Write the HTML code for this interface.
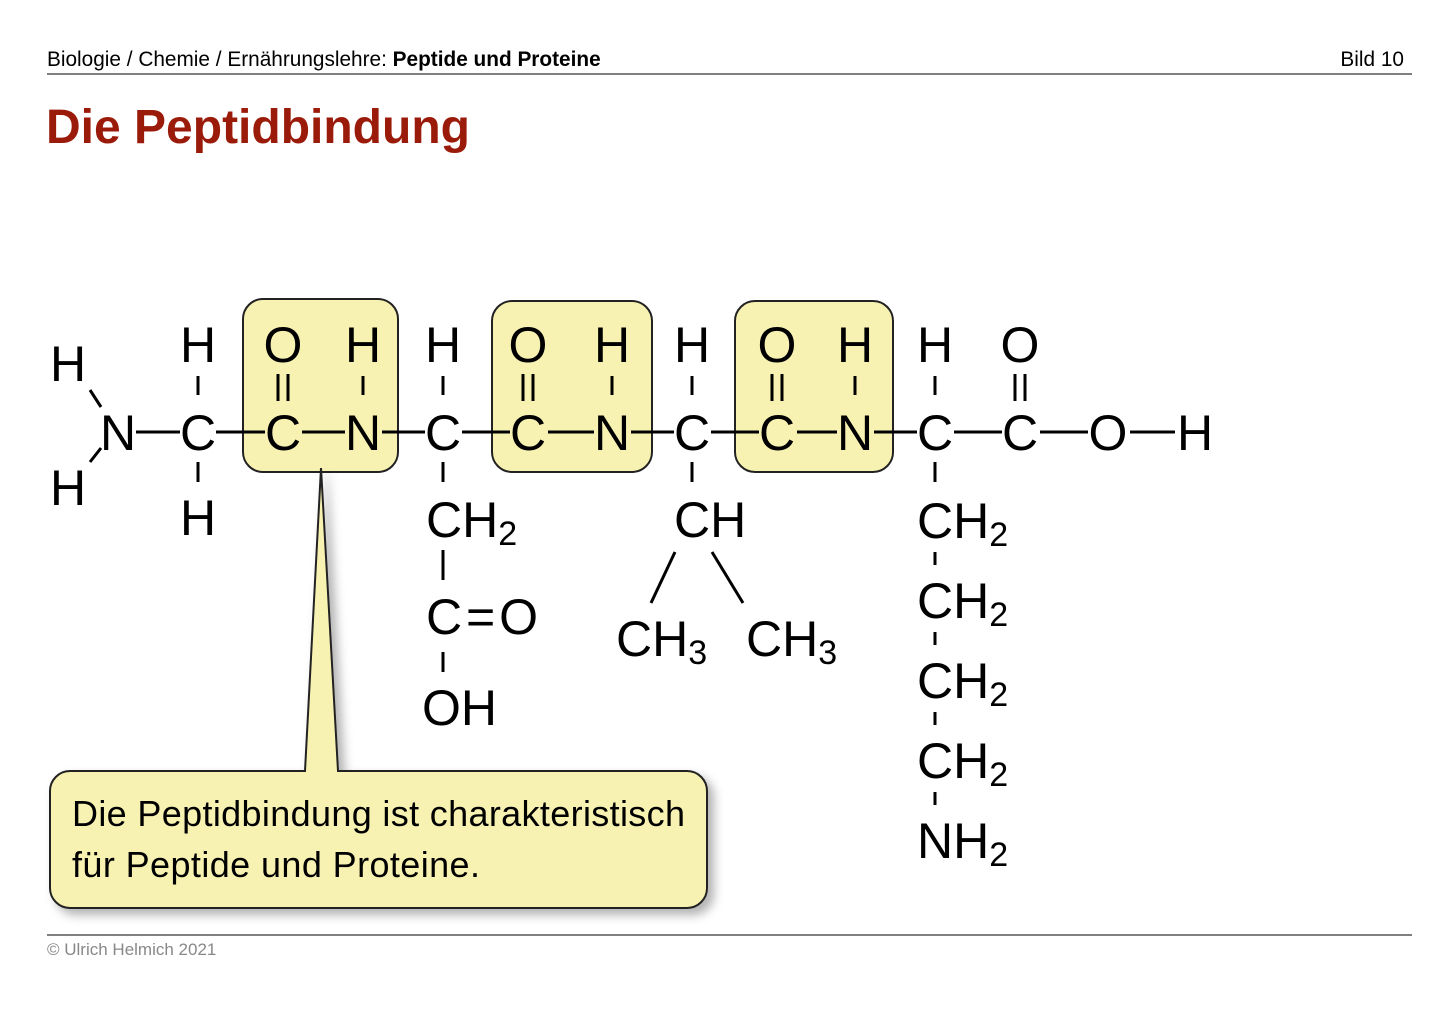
<!DOCTYPE html>
<html><head><meta charset="utf-8"><style>
body{margin:0;background:#fff;width:1455px;height:1025px;overflow:hidden}
svg{position:absolute;left:0;top:0}
</style></head><body>
<svg width="1455" height="1025" xmlns="http://www.w3.org/2000/svg" font-family="Liberation Sans, sans-serif">
<defs><filter id="sh" x="-5%" y="-5%" width="115%" height="125%"><feDropShadow dx="6" dy="6" stdDeviation="5" flood-color="#000" flood-opacity="0.3"/></filter></defs>
<text x="47" y="66" font-size="20.8" fill="#000">Biologie / Chemie / Ernährungslehre: <tspan font-weight="bold">Peptide und Proteine</tspan></text>
<text x="1404" y="66" font-size="20.8" text-anchor="end">Bild 10</text>
<line x1="47" y1="74" x2="1412" y2="74" stroke="#000" stroke-width="1"/>
<text x="46" y="143" font-size="48" font-weight="bold" fill="#9b1b0a">Die Peptidbindung</text>
<line x1="47" y1="935" x2="1412" y2="935" stroke="#000" stroke-width="1"/>
<text x="47" y="955" font-size="17" fill="#888">© Ulrich Helmich 2021</text>

<g fill="#f8f2b2" stroke="#222" stroke-width="2">
<rect x="243" y="299" width="155" height="173" rx="20"/>
<rect x="492" y="301" width="160" height="171" rx="20"/>
<rect x="735" y="301" width="158" height="171" rx="20"/>
</g>
<g filter="url(#sh)">
<path d="M70 771 H305 L321 468 L338 771 H687 A20 20 0 0 1 707 791 V888 A20 20 0 0 1 687 908 H70 A20 20 0 0 1 50 888 V791 A20 20 0 0 1 70 771 Z" fill="#f8f2b2" stroke="#222" stroke-width="2"/>
</g>
<text x="72" y="826" font-size="36" textLength="613">Die Peptidbindung ist charakteristisch</text>
<text x="72" y="877" font-size="36" textLength="408">für Peptide und Proteine.</text>

<g stroke="#000" stroke-width="3" fill="none">
<line x1="90" y1="390" x2="101" y2="407"/><line x1="90" y1="462" x2="101" y2="448"/>
<line x1="136" y1="432" x2="180" y2="432"/><line x1="216" y1="432" x2="265" y2="432"/>
<line x1="302" y1="432" x2="345" y2="432"/><line x1="382" y1="432" x2="425" y2="432"/>
<line x1="462" y1="432" x2="510" y2="432"/><line x1="548" y1="432" x2="594" y2="432"/>
<line x1="631" y1="432" x2="674" y2="432"/><line x1="711" y1="432" x2="759" y2="432"/>
<line x1="797" y1="432" x2="837" y2="432"/><line x1="874" y1="432" x2="917" y2="432"/>
<line x1="954" y1="432" x2="1002" y2="432"/><line x1="1040" y1="432" x2="1088" y2="432"/>
<line x1="1130" y1="432" x2="1175" y2="432"/>
<line x1="198" y1="376" x2="198" y2="395"/><line x1="198" y1="462" x2="198" y2="482"/>
<line x1="278" y1="374" x2="278" y2="401"/><line x1="288" y1="374" x2="288" y2="401"/>
<line x1="363" y1="376" x2="363" y2="395"/>
<line x1="443" y1="376" x2="443" y2="395"/><line x1="443" y1="462" x2="443" y2="482"/>
<line x1="523" y1="374" x2="523" y2="401"/><line x1="533" y1="374" x2="533" y2="401"/>
<line x1="612" y1="376" x2="612" y2="395"/>
<line x1="692" y1="376" x2="692" y2="395"/><line x1="692" y1="462" x2="692" y2="482"/>
<line x1="772" y1="374" x2="772" y2="401"/><line x1="782" y1="374" x2="782" y2="401"/>
<line x1="855" y1="376" x2="855" y2="395"/>
<line x1="935" y1="376" x2="935" y2="395"/><line x1="935" y1="462" x2="935" y2="482"/>
<line x1="1015" y1="374" x2="1015" y2="401"/><line x1="1025" y1="374" x2="1025" y2="401"/>
<line x1="443" y1="550" x2="443" y2="580"/><line x1="443" y1="652" x2="443" y2="672"/>
<line x1="675" y1="552" x2="651" y2="603"/><line x1="712" y1="552" x2="743" y2="603"/>
<line x1="935" y1="552" x2="935" y2="565"/><line x1="935" y1="632" x2="935" y2="645"/>
<line x1="935" y1="712" x2="935" y2="725"/><line x1="935" y1="792" x2="935" y2="805"/>
</g>

<g font-size="50" text-anchor="middle" fill="#000">
<text x="68" y="381">H</text><text x="68" y="505">H</text>
<text x="118" y="450">N</text><text x="198" y="450">C</text><text x="283" y="450">C</text><text x="363" y="450">N</text>
<text x="443" y="450">C</text><text x="528" y="450">C</text><text x="612" y="450">N</text><text x="692" y="450">C</text>
<text x="777" y="450">C</text><text x="855" y="450">N</text><text x="935" y="450">C</text><text x="1020" y="450">C</text>
<text x="1108" y="450">O</text><text x="1195" y="450">H</text>
<text x="198" y="362">H</text><text x="283" y="362">O</text><text x="363" y="362">H</text><text x="443" y="362">H</text>
<text x="528" y="362">O</text><text x="612" y="362">H</text><text x="692" y="362">H</text><text x="777" y="362">O</text>
<text x="855" y="362">H</text><text x="935" y="362">H</text><text x="1020" y="362">O</text>
<text x="198" y="535">H</text>
</g>
<g font-size="50" fill="#000">
<text x="426" y="537">CH<tspan font-size="34" dy="8">2</tspan></text>
<text x="426" y="634" textLength="112">C=O</text>
<text x="422" y="725">OH</text>
<text x="674" y="537">CH</text>
<text x="616" y="656">CH<tspan font-size="34" dy="8">3</tspan></text>
<text x="746" y="656">CH<tspan font-size="34" dy="8">3</tspan></text>
<text x="917" y="538">CH<tspan font-size="34" dy="8">2</tspan></text>
<text x="917" y="618">CH<tspan font-size="34" dy="8">2</tspan></text>
<text x="917" y="698">CH<tspan font-size="34" dy="8">2</tspan></text>
<text x="917" y="778">CH<tspan font-size="34" dy="8">2</tspan></text>
<text x="917" y="858">NH<tspan font-size="34" dy="8">2</tspan></text>
</g>
</svg>
</body></html>
